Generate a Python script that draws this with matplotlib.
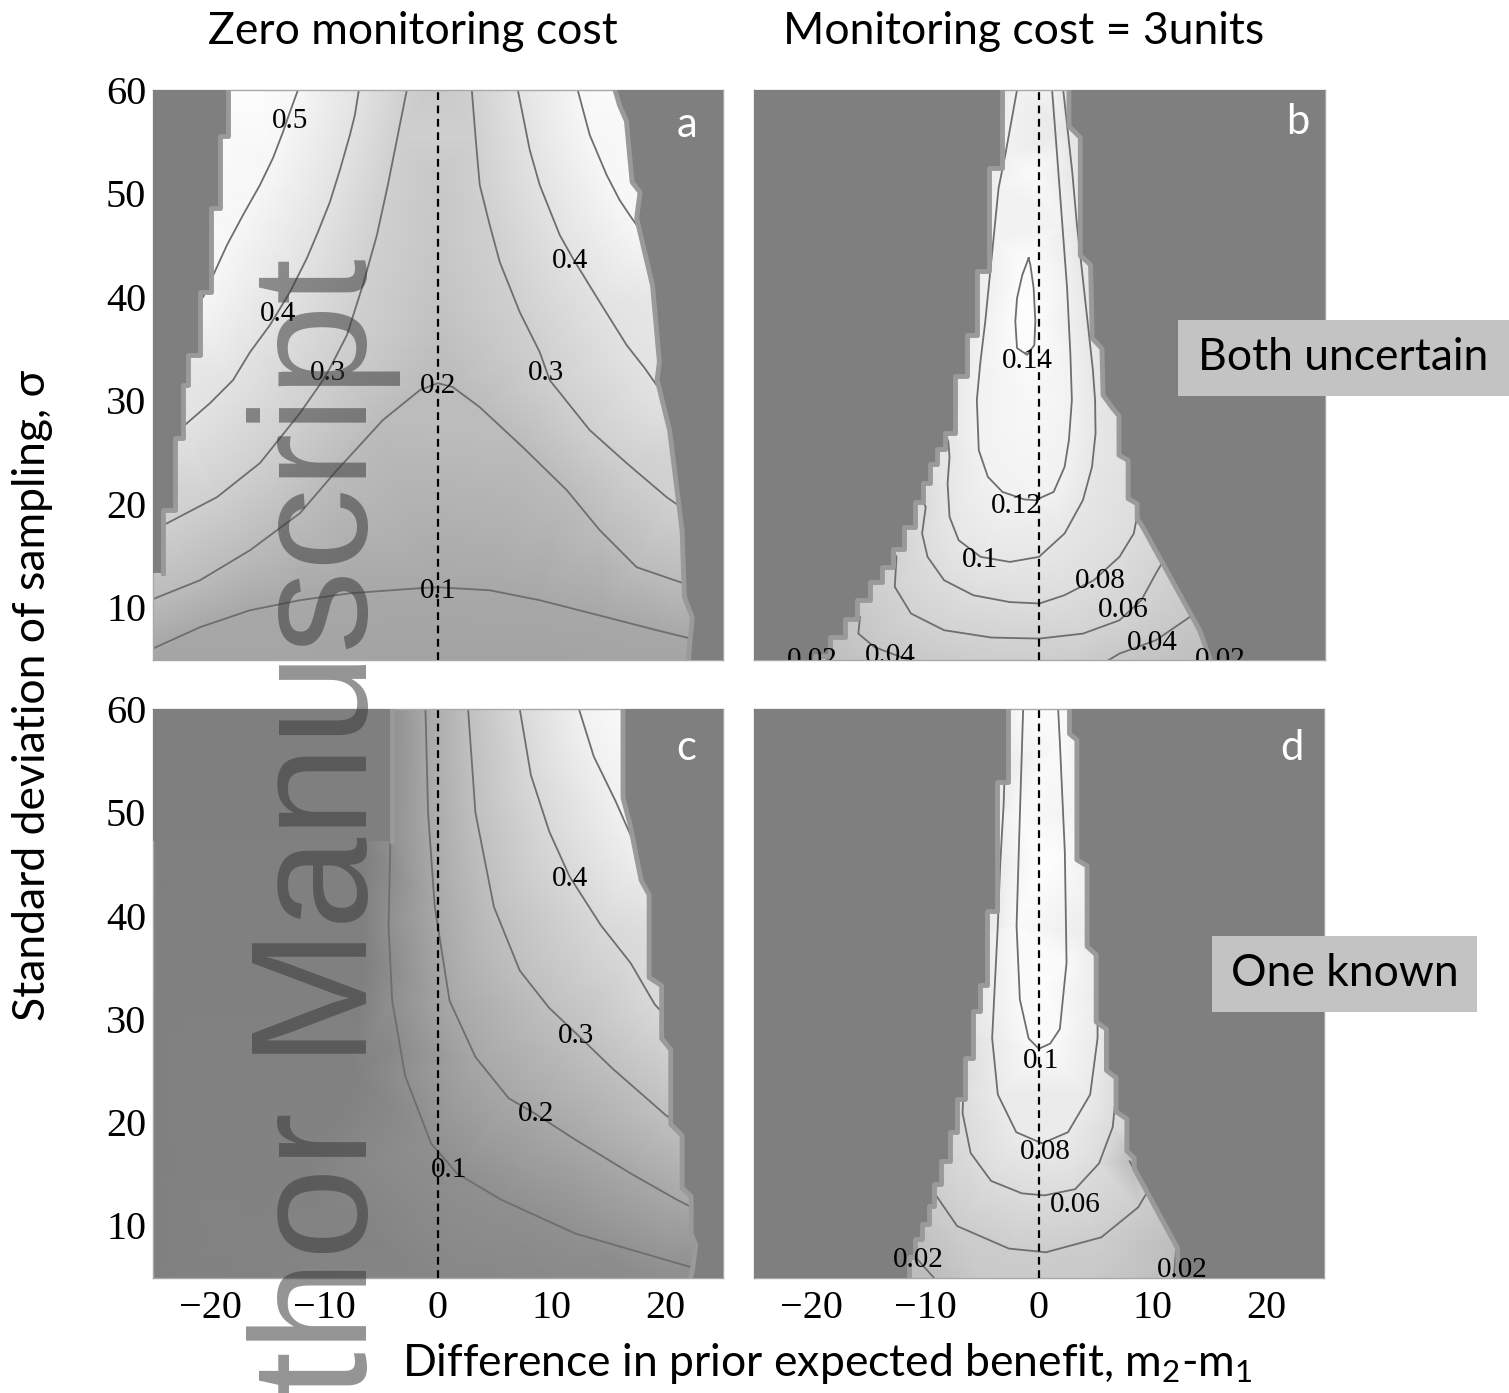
import numpy as np
import matplotlib
matplotlib.use("Agg")
import matplotlib.pyplot as plt
import matplotlib.tri as mtri
from matplotlib.colors import LinearSegmentedColormap
from matplotlib.patches import Polygon, Rectangle

plt.rcParams['font.family'] = ['Lato', 'DejaVu Sans']
plt.rcParams['mathtext.fontset'] = 'custom'
plt.rcParams['mathtext.rm'] = 'Lato'

# ---- shared axes values
x_ticks = [-20, -10, 0, 10, 20]
y_ticks = [10, 20, 30, 40, 50, 60]

# ---- panel a: both uncertain, zero monitoring cost (contour lines)
a_levels = [0.5, 0.5, 0.4, 0.4, 0.3, 0.3, 0.2, 0.1]
a_x = [[-12.31, -13.02, -13.63, -14.51, -15.66, -17.15, -18.56, -20.05, -20.65],
       [12.31, 13.37, 14.86, 16.0, 17.06, 17.8],
       [-6.95, -7.30, -7.74, -8.62, -9.50, -10.55, -11.52, -13.02, -14.78, -16.53, -18.03, -20.05, -22.08, -23.0],
       [7.04, 8.09, 8.97, 10.73, 11.87, 14.25, 16.62, 18.21, 19.26, 20.0],
       [-2.73, -3.52, -4.40, -5.36, -6.60, -8.0, -9.50, -10.11, -12.14, -15.66, -19.44, -23.83, -24.8],
       [2.99, 3.34, 3.69, 4.57, 5.45, 7.21, 8.97, 9.85, 13.37, 16.62, 20.14, 21.5],
       [-25.5, -20.93, -16.53, -12.14, -8.88, -4.84, -1.58, 0, 1.32, 3.69, 7.48, 11.35, 14.25, 17.50, 21.11, 22.0],
       [-25.5, -20.93, -16.53, -12.14, -7.74, -1.58, 0, 4.57, 8.97, 14.86, 19.26, 22.16, 23.0]]
a_s = [[60, 57.87, 55.94, 53.42, 50.81, 47.91, 45.01, 41.43, 40.0],
       [60, 55.65, 51.78, 49.36, 47.62, 46.5],
       [60, 57.58, 55.65, 52.26, 49.17, 46.27, 43.75, 40.46, 37.27, 34.66, 31.95, 29.73, 27.79, 27.0],
       [60, 54.2, 50.81, 45.98, 43.75, 39.5, 35.34, 33.11, 31.47, 30.5],
       [60, 55.65, 50.81, 45.98, 41.14, 36.31, 33.11, 31.95, 28.76, 23.93, 20.64, 18.12, 17.6],
       [60, 55.16, 50.81, 46.94, 43.37, 38.53, 34.66, 31.95, 27.12, 23.93, 20.64, 19.6],
       [10.6, 12.61, 15.51, 19.09, 23.25, 28.09, 30.99, 31.66, 31.28, 29.34, 25.47, 21.32, 17.45, 13.87, 12.51, 12.2],
       [5.8, 8.07, 9.71, 10.68, 11.35, 11.84, 11.93, 11.64, 10.68, 9.03, 7.78, 7.0, 6.8]]
a_left_breaks = [62, 55.6, 48.6, 40.5, 34.4, 31.5, 26.4, 19.4, 13.3]
a_left_x = [-18.5, -19.2, -20.0, -20.9, -22.0, -22.4, -23.1, -24.2]
a_right_x = [15.6, 15.6, 16.0, 16.6, 17.1, 17.8, 17.5, 18.9, 19.5, 19.3, 20.4, 21.5, 21.7, 22.4, 22.2, 22.0]
a_right_s = [62, 60, 58.5, 57, 51.1, 50.1, 47.6, 41.1, 33.7, 32, 27.1, 17.4, 11, 9, 6.8, 4]
a_anchor_x = [-26, 26, -26, 26, -16, 14.5, 0, 0, 0, 0, -26, -26, -26, -26, 26, 26, 26, 26, -12, 0, 12]
a_anchor_s = [62, 62, 3, 3, 61, 61, 61, 52, 44, 38, 35, 23, 14, 8, 40, 26, 17, 10, 4, 4, 4]
a_anchor_v = [0.6, 0.6, 0.07, 0.07, 0.535, 0.52, 0.268, 0.262, 0.25, 0.232,
              0.45, 0.35, 0.25, 0.15, 0.45, 0.35, 0.25, 0.15, 0.078, 0.068, 0.075]

# ---- panel b: both uncertain, monitoring cost 3
b_levels = [0.14, 0.12, 0.1, 0.08, 0.06, 0.04, 0.04, 0.02, 0.02]
b_x = [[-0.94, -0.79, -0.5, -0.35, -0.44, -1.08, -1.96, -2.11, -1.96, -1.5, -0.94],
       [-1.96, -2.99, -3.58, -4.02, -4.75, -5.2, -5.49, -5.32, -4.52, -3.24, -1.31, -0.35, 1.26, 2.22, 2.6,
        2.86, 2.73, 2.44, 2.0, 1.56, 1.12],
       [-8.5, -8.0, -7.89, -8.06, -7.89, -7.09, -5.16, -2.59, -0.03, 2.22, 3.83, 4.63, 4.94, 4.9, 4.7, 4.3,
        3.9, 3.3, 2.9, 2.5, 2.1],
       [-10.6, -9.98, -10.3, -9.82, -8.37, -5.8, -2.6, 0, 2.2, 4.78, 7.04, 8.3, 8.64, 9.3],
       [-13.2, -12.55, -12.7, -11.27, -8.37, -4.2, 0, 3.83, 7.04, 8.96, 10.24, 10.9],
       [-17.2, -15.76, -15.9, -14.5, -12.2, -10.5],
       [5.5, 7.04, 10.24, 12.8, 13.9],
       [-20.5, -19.3, -18.0],
       [15.3, 15.0, 14.8]]
b_s = [[43.75, 43.1, 40.85, 37.63, 35.34, 34.4, 35.05, 37.63, 39.88, 42.1, 43.75],
       [60, 53.74, 50.52, 45.69, 37.63, 33.5, 30.02, 25.18, 22.6, 21.15, 20.42, 20.35, 21.15, 23.57, 26.15,
        30.02, 34.4, 40.85, 47.3, 53.74, 60],
       [27.5, 26.0, 24.54, 21.96, 18.74, 16.48, 14.87, 14.38, 14.87, 17.13, 20.35, 23.57, 26.8, 30.0, 33, 37,
        41, 47, 52, 56, 60],
       [21.0, 19.7, 17.13, 14.87, 12.61, 11.16, 10.5, 10.36, 11.16, 12.61, 14.87, 17.13, 19.07, 20.0],
       [16.0, 14.87, 11.97, 9.39, 7.78, 7.07, 6.97, 7.45, 8.74, 10.68, 13.26, 14.5],
       [10.8, 9.07, 7.45, 6.16, 5.2, 4.5],
       [4.5, 5.52, 6.81, 8.74, 9.6],
       [6.6, 5.5, 4.5],
       [6.8, 5.5, 4.5]]
b_left_breaks = [62, 52.5, 42.5, 36.3, 32.4, 26.8, 25.3, 23.8, 22.0, 20.2, 17.8, 15.6, 13.9, 12.4, 10.7,
                 8.9, 7.1, 5.3, 4.0]
b_left_x = [-3.3, -4.45, -5.5, -6.35, -7.45, -8.3, -9.0, -9.6, -10.2, -10.9, -11.9, -12.9, -13.8, -14.9,
            -16.0, -17.1, -18.4, -19.7]
b_right_x = [2.6, 2.6, 3.6, 3.6, 4.5, 4.65, 5.5, 5.6, 6.4, 7.0, 7.0, 7.8, 7.8, 8.6, 8.6, 8.96, 14.07, 15.0, 15.3]
b_right_s = [62, 56.5, 55.4, 44.0, 43.1, 36.0, 35.0, 30.5, 29.3, 28.5, 24.7, 24.2, 20.5, 20.0, 18.5, 18.0, 7.8,
             5.0, 4.0]
b_anchor_x = [-0.4, -0.6, -1.2, -0.8, -0.8, -4.0, -5.0, -6.8, -8.5, -10.5, -12.0, -14.5, -17.0, -20.5, -21,
              3.4, 4.3, 5.5, 6.5, 7.5, 10, 12, 14, 16.5, 16.5, -5, 0, 3, -26, 26, -26, 26]
b_anchor_s = [61, 52, 39.5, 30, 24, 61, 48, 38, 30, 25, 20, 16, 11, 6, 4,
              61, 50, 38, 30, 25, 19, 15, 10, 5, 4, 4, 4, 4, 62, 62, 3, 3]
b_anchor_v = [0.128, 0.136, 0.146, 0.132, 0.125, 0.105, 0.105, 0.1, 0.098, 0.092, 0.08, 0.062, 0.042, 0.02,
              0.015, 0.095, 0.093, 0.093, 0.093, 0.09, 0.078, 0.06, 0.04, 0.02, 0.018, 0.045, 0.047, 0.045,
              0, 0, 0, 0]

# ---- panel c: one known, zero monitoring cost
c_levels = [0.1, 0.2, 0.3, 0.4, 0.5]
c_x = [[-4.02, -4.18, -4.34, -4.02, -2.88, -0.6, 1.68, 5.58, 12.09, 22.34, 23.5],
       [-1.09, -0.86, -0.27, 1.03, 3.31, 6.24, 8.51, 12.09, 16.97, 21.04, 22.8],
       [2.66, 3.31, 4.93, 7.21, 9.81, 12.25, 15.35, 20.06, 21.0],
       [7.21, 8.19, 9.81, 11.6, 14.36, 16.97, 19.09, 20.0],
       [12.42, 13.72, 15.66, 16.97, 17.8]]
c_s = [[60, 47.22, 39.04, 31.76, 24.49, 17.93, 15.03, 12.48, 9.21, 5.93, 5.6],
       [60, 49.95, 40.86, 31.76, 26.3, 22.3, 20.85, 18.3, 15.03, 12.48, 11.5],
       [60, 49.95, 40.86, 34.67, 31.04, 28.5, 25.21, 20.67, 19.9],
       [60, 53.6, 48.13, 43.77, 39.04, 35.4, 31.4, 30.3],
       [60, 55.42, 51.04, 47.78, 46.5]]
c_left_breaks = [62, 47.2]
c_left_x = [-4.05]
c_right_x = [16.3, 16.3, 16.9, 17.9, 18.6, 18.6, 19.7, 19.7, 20.5, 20.5, 21.5, 21.5, 22.3, 22.3, 22.7, 22.4, 22.0]
c_right_s = [62, 51.4, 48.9, 43.4, 42.0, 34.0, 33.2, 28.1, 27.0, 19.8, 18.7, 13.6, 12.8, 9.2, 8.1, 5.6, 4.0]
c_anchor_x = [-26, -26, 26, 26, -6.5, -6.5, -7.5, -12, -20, -4.6, -4.6, -4.2, 0, 10, 20,
              26, 26, 26, 26, 19, 15.5]
c_anchor_s = [62, 3, 3, 62, 46, 35, 25, 14, 8, 45, 35, 27, 4, 4, 4,
              9, 16, 25, 38, 62, 61]
c_anchor_v = [0.03, 0.035, 0.09, 0.6, 0.035, 0.036, 0.04, 0.045, 0.048, 0.075, 0.072, 0.07, 0.06, 0.075,
              0.085, 0.15, 0.25, 0.35, 0.45, 0.56, 0.535]

# ---- panel d: one known, monitoring cost 3
d_levels = [0.1, 0.08, 0.06, 0.04, 0.02, 0.02]
d_x = [[-1.38, -1.67, -1.96, -1.67, -0.9, 0.0, 1.0, 1.85, 2.44, 2.29, 1.85, 1.7],
       [-3.0, -3.1, -3.4, -3.61, -4.11, -3.61, -1.99, 0.29, 2.57, 4.52, 5.17, 5.17, 5.0],
       [-6.9, -6.6, -6.71, -6.0, -4.2, -1.5, 0.5, 3.2, 5.3, 6.5, 6.96, 6.8],
       [-9.8, -9.47, -7.19, -2.64, 0.62, 5.5, 8.75, 9.73, 10.3],
       [-11.8, -10.6, -9.3, -8.8],
       [8.0, 12.1, 11.9, 11.8]]
d_s = [[60, 49.69, 39.0, 31.87, 28.1, 27.1, 27.6, 29.01, 35.44, 46.13, 56.82, 60],
       [54.0, 50.69, 45, 39.04, 28.12, 22.67, 19.02, 17.94, 19.02, 22.67, 28.12, 35.4, 38.0],
       [26.5, 24.49, 20.85, 17.0, 14.3, 13.1, 12.9, 13.5, 16.0, 19.5, 24.49, 27.4],
       [15.0, 13.57, 9.93, 7.75, 7.39, 8.84, 11.75, 13.57, 14.5],
       [8.3, 6.6, 5.0, 4.3],
       [16.2, 8.0, 5.2, 4.3]]
d_left_breaks = [62, 52.9, 40.4, 33.3, 30.8, 26.2, 22.2, 19.0, 16.2, 14.0, 11.9, 10.1, 8.7, 6.9, 4.0]
d_left_x = [-2.7, -3.7, -4.6, -5.2, -5.8, -6.5, -7.2, -7.8, -8.6, -9.2, -9.7, -10.3, -10.9, -11.4]
d_right_x = [2.7, 2.7, 3.35, 3.35, 4.25, 4.25, 5.05, 5.05, 5.95, 5.95, 6.8, 6.8, 7.75, 7.75, 8.4, 8.4, 12.2, 12.3]
d_right_s = [62, 57.6, 57.0, 45.4, 44.8, 37.0, 36.2, 29.7, 29.0, 25.0, 24.3, 21.0, 20.3, 17.2, 16.5, 15.5, 7.8, 4.0]
d_anchor_x = [0.2, 0.2, 0.3, -3.2, -4.2, -5.2, -6.5, -7.6, -9, -10.5, -12, -12,
              3.2, 4, 5.2, 6.0, 7.2, 8.8, 10.5, 12.8, 12.8, -5, 0, 5, -26, 26, -26, 26]
d_anchor_s = [61, 45, 33, 61, 50, 38, 29, 23, 17, 12, 6, 4,
              61, 50, 40, 32, 25, 19, 13, 7, 4, 4, 4, 4, 62, 62, 3, 3]
d_anchor_v = [0.108, 0.109, 0.105, 0.09, 0.085, 0.078, 0.07, 0.06, 0.05, 0.035, 0.02, 0.018,
              0.092, 0.088, 0.082, 0.076, 0.066, 0.052, 0.036, 0.02, 0.018, 0.034, 0.035, 0.034, 0, 0, 0, 0]

W, H = 1509, 1393
MASK = '#7f7f7f'
EDGE = '#9a9a9a'
LINE = '#6e6e6e'
shade = LinearSegmentedColormap.from_list('shade', [MASK, '#ffffff'])


def stairs(breaks, xs):
    vx, vs = [], []
    for i, x in enumerate(xs):
        vx += [x, x]
        vs += [breaks[i], breaks[i + 1]]
    return vx, vs


def draw_panel(ax, levels, xs, ss, anchors, left, right, vlim, spots, letter, letter_pos):
    ax.set_facecolor(MASK)
    # gray shading: values of the contour lines plus a few read-off anchor values
    px, ps, pv = [], [], []
    for lev, x, s in zip(levels, xs, ss):
        px += list(x)
        ps += list(s)
        pv += [lev] * len(x)
        for xe, se in ((x[0], s[0]), (x[-1], s[-1])):
            if se >= 59.9:
                px.append(xe)
                ps.append(61.5)
                pv.append(lev)
    px += list(anchors[0])
    ps += list(anchors[1])
    pv += list(anchors[2])
    pts = np.column_stack([px, ps])
    pts, idx = np.unique(pts, axis=0, return_index=True)
    vals = np.asarray(pv)[idx]
    tri = mtri.Triangulation(pts[:, 0], pts[:, 1])
    ax.tripcolor(tri, vals, shading='gouraud', cmap=shade, vmin=vlim[0], vmax=vlim[1], zorder=0)

    for lev, x, s in zip(levels, xs, ss):
        ax.plot(x, s, color=LINE, lw=1.3, zorder=2, solid_joinstyle='round')

    # region where monitoring is not worthwhile
    lx, ls = left
    ax.add_patch(Polygon([(-27, ls[0])] + list(zip(lx, ls)) + [(-27, ls[-1])],
                         closed=True, facecolor=MASK, edgecolor='none', zorder=3))
    ax.plot(lx, ls, color=EDGE, lw=3.5, zorder=3.2)
    rx, rs = right
    ax.add_patch(Polygon([(27, rs[0])] + list(zip(rx, rs)) + [(27, rs[-1])],
                         closed=True, facecolor=MASK, edgecolor='none', zorder=3))
    ax.plot(rx, rs, color=EDGE, lw=3.5, zorder=3.2)

    ax.axvline(0, color='black', lw=1.6, ls=(0, (3.5, 2.5)), zorder=4)

    for lev, x, s in spots:
        ax.text(x, s, f'{lev:g}', family='Liberation Serif', fontsize=21, ha='center',
                va='center_baseline', zorder=5, clip_on=True)
    ax.text(letter_pos[0], letter_pos[1], letter, transform=ax.transAxes, color='white',
            fontsize=30, ha='center', va='center', zorder=6)

    ax.set_xlim(-25.07, 25.1)
    ax.set_ylim(4.9, 60)
    for sp in ax.spines.values():
        sp.set_color('#a8a8a8')
        sp.set_linewidth(1.0)
    ax.tick_params(axis='y', length=0, pad=5)
    ax.tick_params(axis='x', length=0, pad=8.5)


fig = plt.figure(figsize=(W / 100, H / 100), dpi=100)


def rect(l, t, r, b):
    return [l / W, 1 - b / H, (r - l) / W, (b - t) / H]


ax_a = fig.add_axes(rect(153, 90, 723, 660))
ax_b = fig.add_axes(rect(754, 90, 1325, 660))
ax_c = fig.add_axes(rect(153, 709, 723, 1278))
ax_d = fig.add_axes(rect(754, 709, 1324, 1278))

draw_panel(ax_a, a_levels, a_x, a_s, (a_anchor_x, a_anchor_s, a_anchor_v),
           stairs(a_left_breaks, a_left_x), (a_right_x, a_right_s), (-0.106, 0.539),
           [(0.5, -13.0, 57.3), (0.4, -14.07, 38.63), (0.3, -9.67, 32.92), (0.2, 0, 31.66),
            (0.1, 0, 11.84), (0.4, 11.61, 43.75), (0.3, 9.5, 32.92)], 'a', (0.937, 0.939))
draw_panel(ax_b, b_levels, b_x, b_s, (b_anchor_x, b_anchor_s, b_anchor_v),
           stairs(b_left_breaks, b_left_x), (b_right_x, b_right_s), (-0.1, 0.145),
           [(0.14, -1.06, 34.08), (0.12, -2.02, 20.06), (0.1, -5.19, 14.84), (0.08, 5.36, 12.81),
            (0.06, 7.39, 10.0), (0.04, 9.94, 6.81), (0.04, -13.1, 5.55), (0.02, -19.96, 5.16),
            (0.02, 15.92, 5.16)], 'b', (0.953, 0.944))
draw_panel(ax_c, c_levels, c_x, c_s, (c_anchor_x, c_anchor_s, c_anchor_v),
           stairs(c_left_breaks, c_left_x), (c_right_x, c_right_s), (0.032, 0.558),
           [(0.4, 11.61, 43.85), (0.3, 12.14, 28.67), (0.2, 8.62, 21.03), (0.1, 0.97, 15.61)],
           'c', (0.935, 0.931))
draw_panel(ax_d, d_levels, d_x, d_s, (d_anchor_x, d_anchor_s, d_anchor_v),
           stairs(d_left_breaks, d_left_x), (d_right_x, d_right_s), (-0.063, 0.107),
           [(0.1, 0.18, 26.25), (0.08, 0.53, 17.35), (0.06, 3.17, 12.22), (0.02, -10.64, 6.9),
            (0.02, 12.66, 5.94)], 'd', (0.944, 0.931))

tick_font = dict(family='Liberation Serif', fontsize=29)
for ax in (ax_a, ax_c):
    ax.set_yticks(y_ticks, [str(t) for t in y_ticks], **tick_font)
for ax in (ax_b, ax_d):
    ax.set_yticks([])
for ax in (ax_c, ax_d):
    ax.set_xticks(x_ticks, [str(t).replace('-', '\u2212') for t in x_ticks], **tick_font)
for ax in (ax_a, ax_b):
    ax.set_xticks([])

LAB = 32
fig.text(413 / W, 1 - 32 / H, 'Zero monitoring cost', ha='center', va='center', fontsize=LAB)
fig.text(1024 / W, 1 - 32 / H, 'Monitoring cost = 3units', ha='center', va='center', fontsize=LAB)
fig.text(33 / W, 1 - 695 / H, 'Standard deviation of sampling, \u03c3', rotation=90,
         ha='center', va='center', fontsize=LAB)
fig.text(827 / W, 1 - 1363 / H,
         'Difference in prior expected benefit, $\\mathregular{m_2}$-$\\mathregular{m_1}$',
         ha='center', va='center', fontsize=LAB)

for (l, t, r, b), label in (((1178, 320, 1512, 396), 'Both uncertain'),
                            ((1212, 936, 1477, 1012), 'One known')):
    fig.add_artist(Rectangle((l / W, 1 - b / H), (r - l) / W, (b - t) / H, transform=fig.transFigure,
                             facecolor='#c3c3c3', edgecolor='none', zorder=5))
    fig.text((l + min(r, W)) / 2 / W, 1 - (t + b) / 2 / H, label, ha='center', va='center',
             fontsize=LAB, zorder=6)

# watermark
fig.text(367 / W, 1 - 258 / H, 'thor Manuscript', rotation=90, rotation_mode='anchor',
         ha='right', va='baseline', fontsize=119, family='Liberation Sans', color='#393939',
         alpha=0.54, zorder=10)

fig.savefig('out.png', dpi=100)
